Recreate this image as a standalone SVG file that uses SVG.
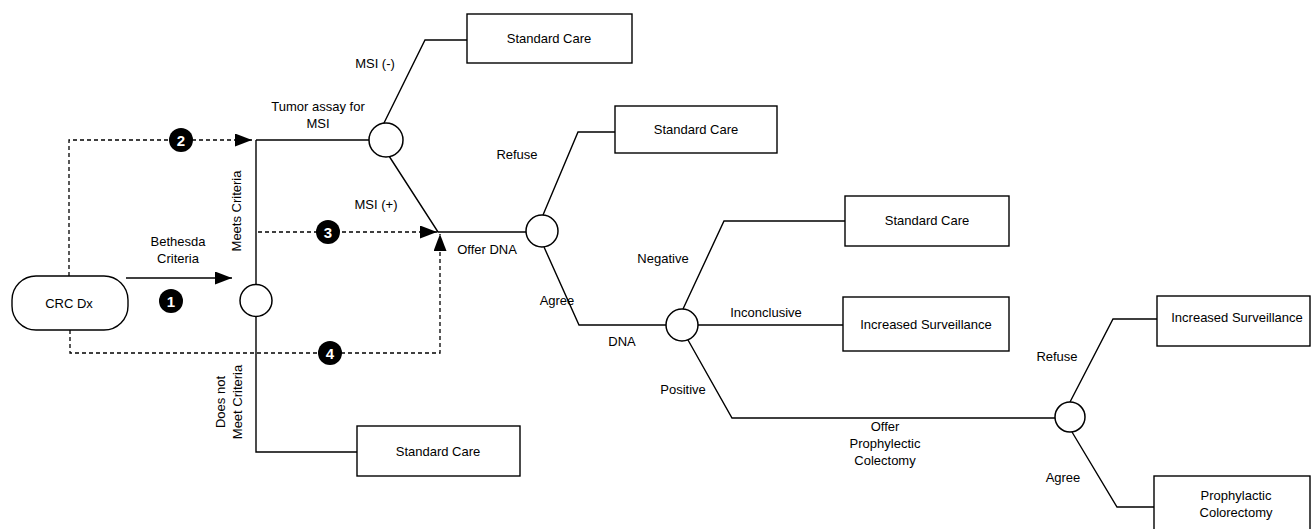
<svg xmlns="http://www.w3.org/2000/svg" width="1311" height="529" viewBox="0 0 1311 529">
<style>
text{font-family:"Liberation Sans",Arial,sans-serif;font-size:13px;fill:#000}
.c{text-anchor:middle}
.ln{fill:none;stroke:#000;stroke-width:1.4}
.dash{fill:none;stroke:#000;stroke-width:1.3;stroke-dasharray:4,3}
.box{fill:#fff;stroke:#000;stroke-width:1.4}
.chance{fill:#fff;stroke:#000;stroke-width:1.5}
.num{fill:#000}
.numt{fill:#fff;font-weight:bold;font-size:15px;text-anchor:middle}
</style>
<defs>
<marker id="arr" markerUnits="userSpaceOnUse" markerWidth="18" markerHeight="13" refX="17" refY="6.5" orient="auto">
<path d="M0,0 L17,6.5 L0,13 Z" fill="#000"/>
</marker>
</defs>
<rect width="1311" height="529" fill="#fff"/>
<g id="connectors">
<path class="ln" d="M126,278 H232" marker-end="url(#arr)"/>
<path class="dash" d="M69,276 V140 H252" marker-end="url(#arr)"/>
<path class="dash" d="M258,232 H437" marker-end="url(#arr)"/>
<path class="dash" d="M70,330 V353 H440 V234" marker-end="url(#arr)"/>
<path class="ln" d="M256,140 V284"/>
<path class="ln" d="M256,317 V452 H357"/>
<path class="ln" d="M256,140 H369"/>
<path class="ln" d="M383,125 L425,40 H467"/>
<path class="ln" d="M389,156 L438,232 H526"/>
<path class="ln" d="M543,215 L578,132 H615"/>
<path class="ln" d="M544,247 L579,325 H666"/>
<path class="ln" d="M683,309 L724,221 H845"/>
<path class="ln" d="M698,325 H843"/>
<path class="ln" d="M688,340 L732,418 H1055"/>
<path class="ln" d="M1070,402 L1113,319 H1157"/>
<path class="ln" d="M1072,432 L1117,507 H1154"/>
</g>
<g id="n-crc">
<rect class="box" x="12" y="276" width="116" height="54" rx="24" ry="24"/>
<text class="c" x="69" y="308">CRC Dx</text>
</g>
<g id="c-bethesda"><circle class="chance" cx="256" cy="300.5" r="16"/></g>
<g id="c-msi"><circle class="chance" cx="386" cy="140" r="17"/></g>
<g id="c-offer"><circle class="chance" cx="542" cy="231" r="16"/></g>
<g id="c-dna"><circle class="chance" cx="682" cy="325" r="16"/></g>
<g id="c-proph"><circle class="chance" cx="1070" cy="417" r="15"/></g>
<g id="b-sc1"><rect class="box" x="467" y="14" width="165" height="49"/><text class="c" x="549" y="43">Standard Care</text></g>
<g id="b-sc2"><rect class="box" x="615" y="106" width="162" height="47"/><text class="c" x="696" y="134">Standard Care</text></g>
<g id="b-sc3"><rect class="box" x="845" y="196" width="164" height="50"/><text class="c" x="927" y="225">Standard Care</text></g>
<g id="b-is1"><rect class="box" x="843" y="297" width="166" height="54"/><text class="c" x="926" y="329">Increased  Surveillance</text></g>
<g id="b-is2"><rect class="box" x="1157" y="296" width="153" height="50"/><text class="c" x="1237" y="322">Increased  Surveillance</text></g>
<g id="b-pc"><rect class="box" x="1154" y="476" width="156" height="60"/><text class="c" x="1236" y="500">Prophylactic</text><text class="c" x="1236" y="517">Colorectomy</text></g>
<g id="b-sc4"><rect class="box" x="357" y="426" width="163" height="50"/><text class="c" x="438" y="456">Standard Care</text></g>
<g id="labels">
<text class="c" x="178" y="246">Bethesda</text>
<text class="c" x="178" y="263">Criteria</text>
<text class="c" transform="translate(241,211) rotate(-90)">Meets Criteria</text>
<text class="c" transform="translate(225,402) rotate(-90)">Does not</text>
<text class="c" transform="translate(242,402) rotate(-90)">Meet Criteria</text>
<text class="c" x="318" y="111">Tumor assay for</text>
<text class="c" x="318" y="128">MSI</text>
<text class="c" x="375" y="68">MSI (-)</text>
<text class="c" x="376" y="209">MSI (+)</text>
<text class="c" x="517" y="159">Refuse</text>
<text class="c" x="487" y="254">Offer DNA</text>
<text class="c" x="557" y="305">Agree</text>
<text class="c" x="622" y="346">DNA</text>
<text class="c" x="663" y="263">Negative</text>
<text class="c" x="766" y="317">Inconclusive</text>
<text class="c" x="683" y="394">Positive</text>
<text class="c" x="885" y="431">Offer</text>
<text class="c" x="885" y="448">Prophylectic</text>
<text class="c" x="885" y="465">Colectomy</text>
<text class="c" x="1057" y="361">Refuse</text>
<text class="c" x="1063" y="482">Agree</text>
</g>
<g id="num1"><circle class="num" cx="171" cy="301" r="12"/><text class="numt" x="171" y="306.5">1</text></g>
<g id="num2"><circle class="num" cx="181" cy="140" r="12"/><text class="numt" x="181" y="145.5">2</text></g>
<g id="num3"><circle class="num" cx="328" cy="232" r="12"/><text class="numt" x="328" y="237.5">3</text></g>
<g id="num4"><circle class="num" cx="330" cy="353" r="12"/><text class="numt" x="330" y="358.5">4</text></g>
</svg>
